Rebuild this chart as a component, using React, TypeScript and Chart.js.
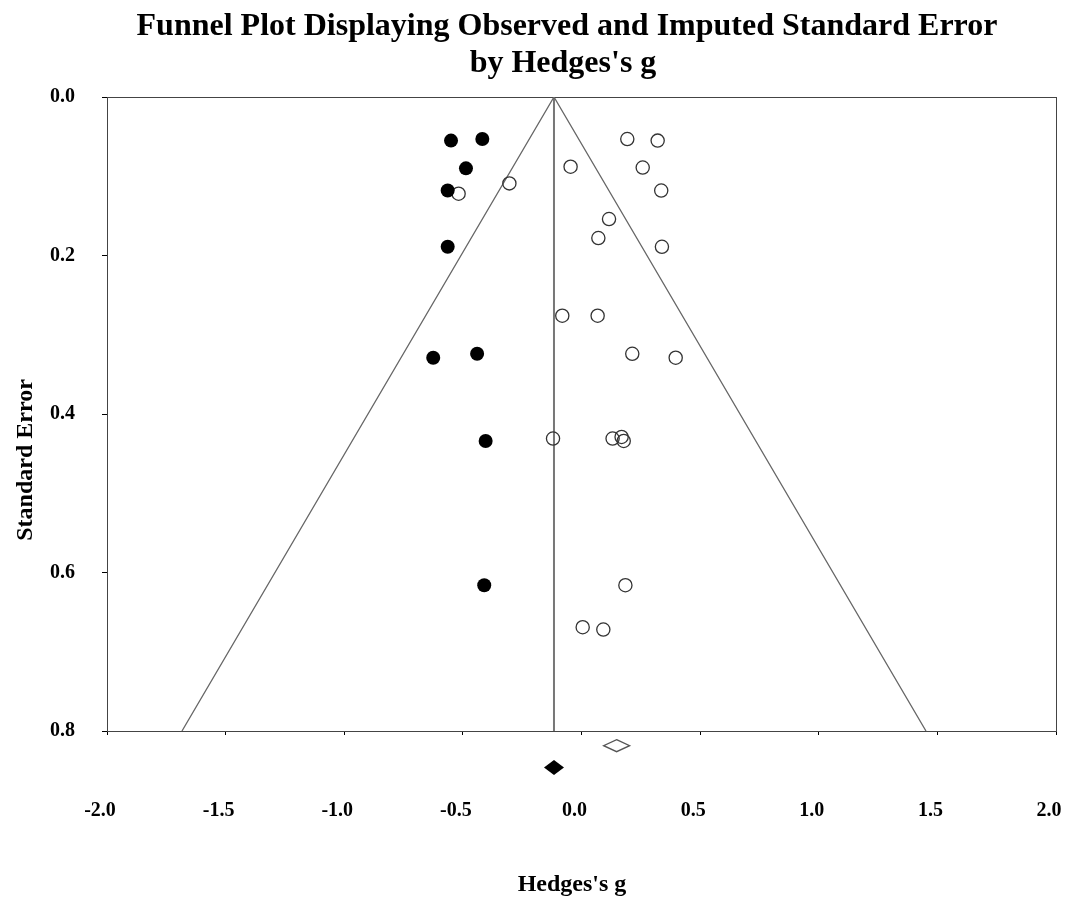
import React, { useEffect, useRef } from "react";
import { Chart, registerables } from "chart.js";

Chart.register(...registerables);

// Observed studies (open circles)
const observedG = [-0.518, -0.304, -0.046, 0.193, 0.321, 0.258, 0.336, 0.116, 0.071, 0.339, -0.081, 0.068, 0.214, 0.397, -0.12, 0.131, 0.169, 0.178, 0.185, 0.005, 0.092];
const observedSE = [0.122, 0.109, 0.088, 0.053, 0.055, 0.089, 0.118, 0.154, 0.178, 0.189, 0.276, 0.276, 0.324, 0.329, 0.431, 0.431, 0.429, 0.434, 0.616, 0.669, 0.672];

// Imputed studies (filled circles)
const imputedG = [-0.55, -0.418, -0.487, -0.564, -0.564, -0.625, -0.44, -0.404, -0.41];
const imputedSE = [0.055, 0.053, 0.09, 0.118, 0.189, 0.329, 0.324, 0.434, 0.616];

// Summary estimates (diamonds, drawn below the plot area)
const observedMeanG = [0.148];
const observedMeanY = [0.8185];
const adjustedMeanG = [-0.116];
const adjustedMeanY = [0.846];

// Funnel and mean line
const funnelX = [-1.684, -0.116, 1.452];
const funnelY = [0.8, 0.0, 0.8];
const meanLineX = [-0.116, -0.116];
const meanLineY = [0.0, 0.8];

const xTicks = [-2.0, -1.5, -1.0, -0.5, 0.0, 0.5, 1.0, 1.5, 2.0];
const yTicks = [0.0, 0.2, 0.4, 0.6, 0.8];

const titleLines = ["Funnel Plot Displaying Observed and Imputed Standard Error", "by Hedges's g"];
const xTitle = "Hedges's g";
const yTitle = "Standard Error";

const FONT = '"Liberation Serif", "Times New Roman", serif';

const zip = (xs: number[], ys: number[]) => xs.map((x, i) => ({ x, y: ys[i] }));

function drawDiamond(ctx: CanvasRenderingContext2D, cx: number, cy: number, w: number, h: number, filled: boolean) {
  ctx.beginPath();
  ctx.moveTo(cx, cy - h / 2);
  ctx.lineTo(cx + w / 2, cy);
  ctx.lineTo(cx, cy + h / 2);
  ctx.lineTo(cx - w / 2, cy);
  ctx.closePath();
  if (filled) {
    ctx.fillStyle = "#000";
    ctx.fill();
  } else {
    ctx.fillStyle = "#fff";
    ctx.fill();
    ctx.strokeStyle = "#555";
    ctx.lineWidth = 1.3;
    ctx.stroke();
  }
}

export default function App() {
  const ref = useRef<HTMLCanvasElement>(null);
  useEffect(() => {
    const canvas = ref.current!;

    const decor = {
      id: "decor",
      beforeDatasetsDraw(chart: any) {
        const { ctx, chartArea } = chart;
        ctx.save();
        ctx.strokeStyle = "#444";
        ctx.lineWidth = 1;
        ctx.strokeRect(chartArea.left + 0.5, chartArea.top + 0.5, chartArea.right - chartArea.left, chartArea.bottom - chartArea.top);
        ctx.restore();
      },
      afterDraw(chart: any) {
        const { ctx } = chart;
        const xs = chart.scales.x;
        const ys = chart.scales.y;
        ctx.save();
        observedMeanG.forEach((g, i) => {
          drawDiamond(ctx, xs.getPixelForValue(g), ys.getPixelForValue(observedMeanY[i]), 26, 12, false);
        });
        adjustedMeanG.forEach((g, i) => {
          drawDiamond(ctx, xs.getPixelForValue(g), ys.getPixelForValue(adjustedMeanY[i]), 20, 15, true);
        });
        ctx.fillStyle = "#000";
        ctx.textAlign = "center";
        ctx.textBaseline = "alphabetic";
        ctx.font = `bold 32px ${FONT}`;
        ctx.fillText(titleLines[0], 567, 35);
        ctx.fillText(titleLines[1], 563, 72);
        ctx.font = `bold 24px ${FONT}`;
        ctx.fillText(xTitle, 572, 891);
        ctx.translate(32, 460);
        ctx.rotate(-Math.PI / 2);
        ctx.fillText(yTitle, 0, 0);
        ctx.restore();
      },
    };

    const chart = new Chart(canvas, {
      type: "scatter",
      data: {
        datasets: [
          {
            label: "Imputed",
            data: zip(imputedG, imputedSE),
            pointStyle: "circle",
            pointRadius: 7,
            backgroundColor: "#000",
            borderColor: "#000",
            borderWidth: 0,
            order: 1,
          },
          {
            label: "Observed",
            data: zip(observedG, observedSE),
            pointStyle: "circle",
            pointRadius: 6.6,
            backgroundColor: "rgba(255,255,255,0)",
            borderColor: "#333",
            borderWidth: 1.3,
            order: 2,
          },
          {
            label: "Funnel",
            data: zip(funnelX, funnelY),
            showLine: true,
            pointRadius: 0,
            borderColor: "#666",
            borderWidth: 1.3,
            order: 5,
          },
          {
            label: "Mean",
            data: zip(meanLineX, meanLineY),
            showLine: true,
            pointRadius: 0,
            borderColor: "#777",
            borderWidth: 2,
            order: 5,
          },
        ],
      },
      options: {
        animation: false,
        responsive: false,
        maintainAspectRatio: false,
        layout: { padding: { top: 97, right: 11, bottom: 0, left: 0 } },
        plugins: {
          legend: { display: false },
          tooltip: { enabled: false },
          title: { display: false },
        },
        scales: {
          x: {
            type: "linear",
            min: -2,
            max: 2,
            afterBuildTicks: (s: any) => {
              s.ticks = xTicks.map((v) => ({ value: v }));
            },
            afterFit: (s: any) => {
              s.height = 168;
              s.paddingLeft = 0;
              s.paddingRight = 0;
            },
            ticks: {
              callback: (v: any) => Number(v).toFixed(1),
              font: { family: FONT, size: 20, weight: "bold" },
              color: "#000",
              padding: 64,
              labelOffset: -7,
              maxRotation: 0,
              autoSkip: false,
            },
            grid: { drawOnChartArea: false, drawTicks: true, tickLength: 4, color: "#000" },
            border: { display: true, color: "#000", width: 1 },
          },
          y: {
            type: "linear",
            reverse: true,
            min: 0,
            max: 0.8,
            afterBuildTicks: (s: any) => {
              s.ticks = yTicks.map((v) => ({ value: v }));
            },
            afterFit: (s: any) => {
              s.width = 107;
              s.paddingTop = 0;
              s.paddingBottom = 0;
            },
            ticks: {
              callback: (v: any) => Number(v).toFixed(1),
              font: { family: FONT, size: 20, weight: "bold" },
              color: "#000",
              padding: 27,
              autoSkip: false,
            },
            grid: { drawOnChartArea: false, drawTicks: true, tickLength: 5, color: "#000" },
            border: { display: true, color: "#000", width: 1 },
          },
        },
      },
      plugins: [decor],
    } as any);
    return () => chart.destroy();
  }, []);

  return (
    <div style={{ position: "absolute", left: 0, top: 0, width: 1067, height: 899, background: "#fff" }}>
      <canvas ref={ref} width={1067} height={899} style={{ display: "block" }} />
    </div>
  );
}
